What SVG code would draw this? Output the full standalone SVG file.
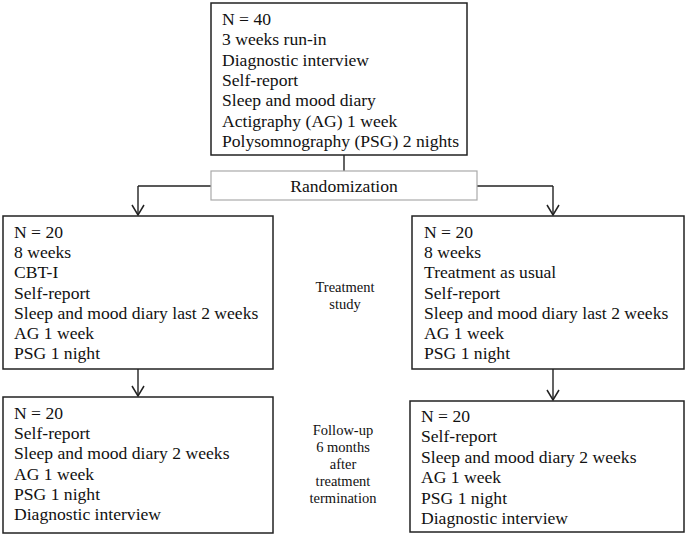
<svg xmlns="http://www.w3.org/2000/svg" width="685" height="534" viewBox="0 0 685 534">
<defs>
<marker id="arr" markerWidth="12" markerHeight="14" refX="11" refY="7" orient="auto" markerUnits="userSpaceOnUse" viewBox="0 0 12 14">
<path d="M1,1 L11,7 L1,13" fill="none" stroke="#222" stroke-width="1.5"/>
</marker>
<style>
.box{fill:#fff;stroke:#222;stroke-width:1.5}
.rbox{fill:#fff;stroke:#aaa;stroke-width:1.2}
.t{font-family:"Liberation Serif","Times New Roman",serif;font-size:17.6px;fill:#111}
.s{font-family:"Liberation Serif","Times New Roman",serif;font-size:14.5px;fill:#111;text-anchor:middle}
.c{fill:none;stroke:#222;stroke-width:1.4}
</style>
</defs>
<rect width="685" height="534" fill="#fff"/>
<g id="connectors">
<line class="c" x1="344" y1="155" x2="344" y2="171"/>
<line class="c" x1="138" y1="186" x2="553" y2="186"/>
<line class="c" x1="138" y1="186" x2="138" y2="215" marker-end="url(#arr)"/>
<line class="c" x1="553" y1="186" x2="553" y2="215" marker-end="url(#arr)"/>
<line class="c" x1="138" y1="369" x2="138" y2="396" marker-end="url(#arr)"/>
<line class="c" x1="553" y1="369" x2="553" y2="400" marker-end="url(#arr)"/>
</g>
<g id="baseline">
<rect class="box" x="211" y="3" width="256" height="152"/>
<text class="t" x="222" y="25">N = 40</text>
<text class="t" x="222" y="45.3">3 weeks run-in</text>
<text class="t" x="222" y="65.6">Diagnostic interview</text>
<text class="t" x="222" y="85.9">Self-report</text>
<text class="t" x="222" y="106.2">Sleep and mood diary</text>
<text class="t" x="222" y="126.5">Actigraphy (AG) 1 week</text>
<text class="t" x="222" y="146.8">Polysomnography (PSG) 2 nights</text>
</g>
<g id="randomization">
<rect class="rbox" x="211" y="171" width="266" height="29"/>
<text class="t" x="344" y="192" text-anchor="middle">Randomization</text>
</g>
<g id="cbti">
<rect class="box" x="3" y="216" width="270" height="153"/>
<text class="t" x="14" y="238">N = 20</text>
<text class="t" x="14" y="258.2">8 weeks</text>
<text class="t" x="14" y="278.4">CBT-I</text>
<text class="t" x="14" y="298.6">Self-report</text>
<text class="t" x="14" y="318.8">Sleep and mood diary last 2 weeks</text>
<text class="t" x="14" y="339">AG 1 week</text>
<text class="t" x="14" y="359.2">PSG 1 night</text>
</g>
<g id="tau">
<rect class="box" x="412" y="216" width="272" height="153"/>
<text class="t" x="424" y="238">N = 20</text>
<text class="t" x="424" y="258.2">8 weeks</text>
<text class="t" x="424" y="278.4">Treatment as usual</text>
<text class="t" x="424" y="298.6">Self-report</text>
<text class="t" x="424" y="318.8">Sleep and mood diary last 2 weeks</text>
<text class="t" x="424" y="339">AG 1 week</text>
<text class="t" x="424" y="359.2">PSG 1 night</text>
</g>
<g id="cbti-followup">
<rect class="box" x="3" y="397" width="270" height="136"/>
<text class="t" x="14" y="419">N = 20</text>
<text class="t" x="14" y="439.2">Self-report</text>
<text class="t" x="14" y="459.4">Sleep and mood diary 2 weeks</text>
<text class="t" x="14" y="479.6">AG 1 week</text>
<text class="t" x="14" y="499.8">PSG 1 night</text>
<text class="t" x="14" y="520">Diagnostic interview</text>
</g>
<g id="tau-followup">
<rect class="box" x="410" y="401" width="274" height="131"/>
<text class="t" x="421" y="422">N = 20</text>
<text class="t" x="421" y="442.4">Self-report</text>
<text class="t" x="421" y="462.8">Sleep and mood diary 2 weeks</text>
<text class="t" x="421" y="483.2">AG 1 week</text>
<text class="t" x="421" y="503.6">PSG 1 night</text>
<text class="t" x="421" y="524">Diagnostic interview</text>
</g>
<g id="label-treatment">
<text class="s" x="345" y="292">Treatment</text>
<text class="s" x="345" y="309">study</text>
</g>
<g id="label-followup">
<text class="s" x="343" y="435">Follow-up</text>
<text class="s" x="343" y="452">6 months</text>
<text class="s" x="343" y="469">after</text>
<text class="s" x="343" y="486">treatment</text>
<text class="s" x="343" y="503">termination</text>
</g>
</svg>
